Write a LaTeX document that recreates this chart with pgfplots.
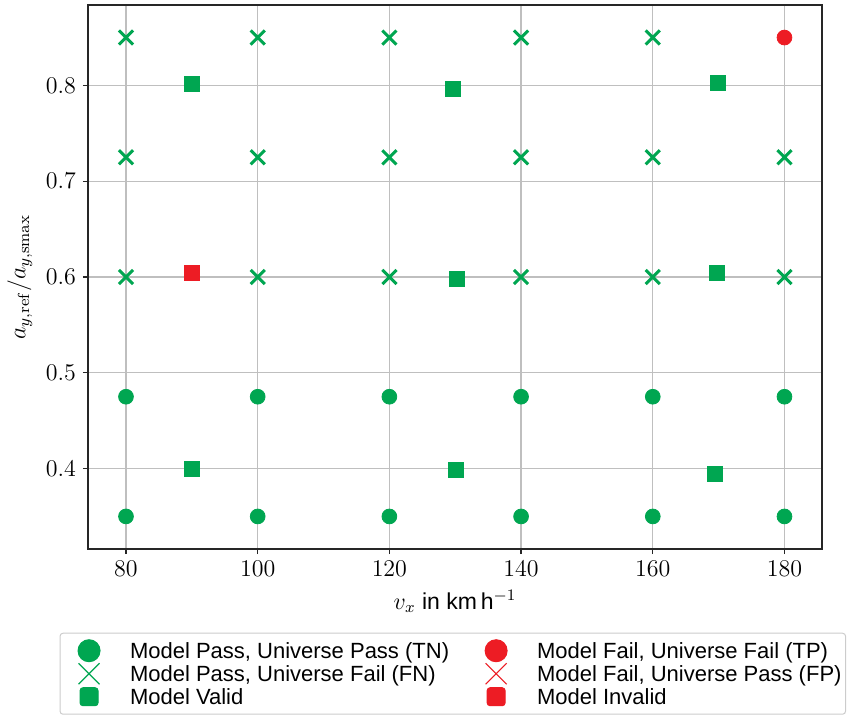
\documentclass[border=0pt]{standalone}
\usepackage[no-math]{fontspec}
\setmainfont{Liberation Sans}
\usepackage{pgfplots}
\pgfplotsset{compat=1.18}
\definecolor{mgreen}{RGB}{0,166,81}
\definecolor{mred}{RGB}{237,28,36}
\begin{document}
\begin{tikzpicture}
\begin{axis}[
  scale only axis, width=367pt, height=272pt,
  xmin=74.23, xmax=185.7, ymin=0.316, ymax=0.884,
  xtick={80,100,...,180}, ytick={0.4,0.5,0.6,0.7,0.8},
  yticklabel style={/pgf/number format/.cd, fixed, precision=1, fixed zerofill},
  grid=major, major grid style={color=black!25, line width=0.7pt},
  axis line style={color=black!85, line width=0.65pt},
  tick align=outside, tick pos=left, major tick length=2.5pt,
  tick style={color=black!85, line width=0.65pt},
  ticklabel style={font=\fontsize{11.5}{13}\selectfont},
  xlabel={$v_x$ in km\,h$^{-1}$},
  ylabel={$a_{y,\mathrm{ref}}/a_{y,\mathrm{smax}}$},
  label style={font=\fontsize{11.5}{13}\selectfont},
  legend columns=2, legend cell align=left,
  legend style={at={(0.497,-0.1539)}, anchor=north, draw=black!20, rounded corners=1.5pt,
    line width=0.5pt, inner xsep=2pt, inner ysep=3pt, font=\fontsize{11}{11}\selectfont,
    nodes={inner sep=0pt, text height=9.65pt, text depth=1.85pt},
    /tikz/every even column/.style={column sep=11pt}},
]
% TN
\addplot[only marks, mark=*, mark size=3.7pt, color=mgreen, draw=mgreen, fill=mgreen,
  legend image code/.code={\path[draw=none,fill=none] (0,0) -- (33pt,0); \fill[mgreen] (12.5pt,0) circle (5.5pt);}]
coordinates {(80,0.35) (100,0.35) (120,0.35) (140,0.35) (160,0.35) (180,0.35)
 (80,0.475) (100,0.475) (120,0.475) (140,0.475) (160,0.475) (180,0.475)};
\addlegendentry{Model Pass, Universe Pass (TN)}
% TP
\addplot[only marks, mark=*, mark size=3.7pt, color=mred, draw=mred, fill=mred,
  legend image code/.code={\path[draw=none,fill=none] (0,0) -- (33pt,0); \fill[mred] (12.5pt,0) circle (5.5pt);}]
coordinates {(180,0.85)};
\addlegendentry{Model Fail, Universe Fail (TP)}
% FN
\addplot[only marks, mark=x, mark size=5pt, color=mgreen, line width=1.5pt,
  legend image code/.code={\path[draw=none,fill=none] (0,0) -- (33pt,0); \draw[mgreen, line width=0.6pt] (7.25pt,-5.25pt) -- (17.75pt,5.25pt) (7.25pt,5.25pt) -- (17.75pt,-5.25pt);}]
coordinates {(80,0.6) (100,0.6) (120,0.6) (140,0.6) (160,0.6) (180,0.6)
 (80,0.725) (100,0.725) (120,0.725) (140,0.725) (160,0.725) (180,0.725)
 (80,0.85) (100,0.85) (120,0.85) (140,0.85) (160,0.85)};
\addlegendentry{Model Pass, Universe Fail (FN)}
% FP (no data)
\addlegendimage{legend image code/.code={\path[draw=none,fill=none] (0,0) -- (33pt,0); \draw[mred, line width=0.6pt] (7.25pt,-5.25pt) -- (17.75pt,5.25pt) (7.25pt,5.25pt) -- (17.75pt,-5.25pt);}}
\addlegendentry{Model Fail, Universe Pass (FP)}
% Valid
\addplot[only marks, mark=square*, mark size=3.75pt, color=mgreen, draw=mgreen, fill=mgreen,
  legend image code/.code={\path[draw=none,fill=none] (0,0) -- (33pt,0); \fill[mgreen] (8pt,-4.5pt) rectangle (17pt,4.5pt);}]
coordinates {(90,0.3995) (90,0.802) (129.7,0.7966) (130.2,0.598) (130.1,0.3984)
 (169.5,0.3943) (169.8,0.604) (169.9,0.803)};
\addlegendentry{Model Valid}
% Invalid
\addplot[only marks, mark=square*, mark size=3.75pt, color=mred, draw=mred, fill=mred,
  legend image code/.code={\path[draw=none,fill=none] (0,0) -- (33pt,0); \fill[mred] (8pt,-4.5pt) rectangle (17pt,4.5pt);}]
coordinates {(90,0.604)};
\addlegendentry{Model Invalid}
\end{axis}
\pgfresetboundingbox
\path ([xshift=-44pt,yshift=-84.5pt]current axis.south west) rectangle ([xshift=16.5pt,yshift=2.5pt]current axis.north east);
\end{tikzpicture}
\end{document}
